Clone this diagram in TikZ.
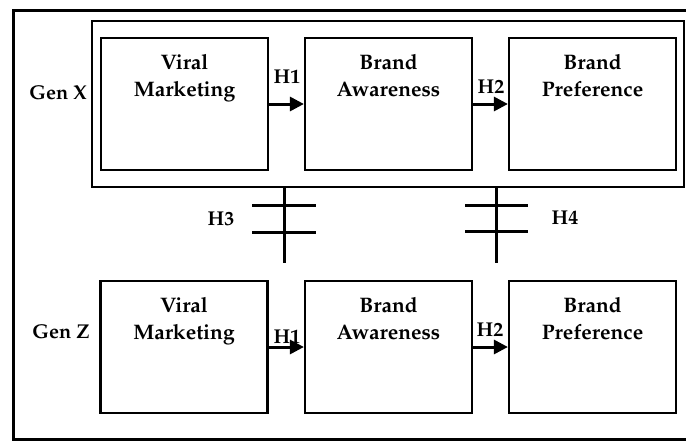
\documentclass[tikz,border=0pt]{standalone}
\usepackage[T1]{fontenc}
\usepackage{mathpazo}
\usepackage{tikz}
\usetikzlibrary{arrows.meta,positioning}

\begin{document}
\begin{tikzpicture}[line cap=butt,line join=miter,>={Triangle[length=14pt,width=14pt]},x=1pt,y=-1pt,
        font=\fontsize{20}{27}\selectfont\bfseries,
        box/.style={draw,line width=2.2pt,minimum width=167pt,minimum height=132pt,inner sep=0pt},
        boxtext/.style={anchor=north,align=center,inner sep=0pt,font=\fontsize{21}{27}\selectfont\bfseries},
        link/.style={->,line width=3pt},
        hyp/.style={line width=3pt}]
        \clip (0,0) rectangle (686,442);
        % outer frame, its right side runs off the page
        \draw [line width=3pt] (13,10) rectangle (692,439);
        % Gen X group
        \node [draw,line width=2pt,minimum width=592pt,minimum height=166pt,inner sep=0pt] (genx) at (388,104) {};
        \node [box] (vmx) at (184.5,104) {};
        \node [box] (bax) at (388.5,104) {};
        \node [box] (bpx) at (592.5,104) {};
        \node [boxtext,below=17pt of vmx.north] (vmxt) {Viral\\Marketing};
        \node [boxtext,below=17pt of bax.north] (baxt) {Brand\\Awareness};
        \node [boxtext,below=17pt of bpx.north] (bpxt) {Brand\\Preference};
        \node (genxl) at (58,93) {Gen X};
        \draw [link] (vmx) -- (bax);
        \draw [link] (bax) -- (bpx);
        \node (h1x) at (287,77) {H1};
        \node (h2x) at (491,87) {H2};
        % Gen Z group
        \node [box] (vmz) at (184,347) {};
        \node [box] (baz) at (388.5,347) {};
        \node [box] (bpz) at (592.5,347) {};
        \node [boxtext,below=17pt of vmz.north] (vmzt) {Viral\\Marketing};
        \node [boxtext,below=17pt of baz.north] (bazt) {Brand\\Awareness};
        \node [boxtext,below=17pt of bpz.north] (bpzt) {Brand\\Preference};
        \node (genzl) at (61,332) {Gen Z};
        \draw [link] (vmz) -- (baz);
        \draw [link] (baz) -- (bpz);
        \node (h1z) at (287,337) {H1};
        \node (h2z) at (490,330) {H2};
        % moderation links between the groups
        \coordinate (h3end) at (284,263);
        \coordinate (h4end) at (496,263);
        \draw [hyp] (genx.south -| h3end) -- (h3end);
        \draw [hyp] (252,205) -- (316,205);
        \draw [hyp] (252,232) -- (316,232);
        \draw [hyp] (genx.south -| h4end) -- (h4end);
        \draw [hyp] (465,205) -- (528,205);
        \draw [hyp] (465,231) -- (528,231);
        \node (h3) at (221,219) {H3};
        \node (h4) at (565,218) {H4};
    \end{tikzpicture}
\end{document}
